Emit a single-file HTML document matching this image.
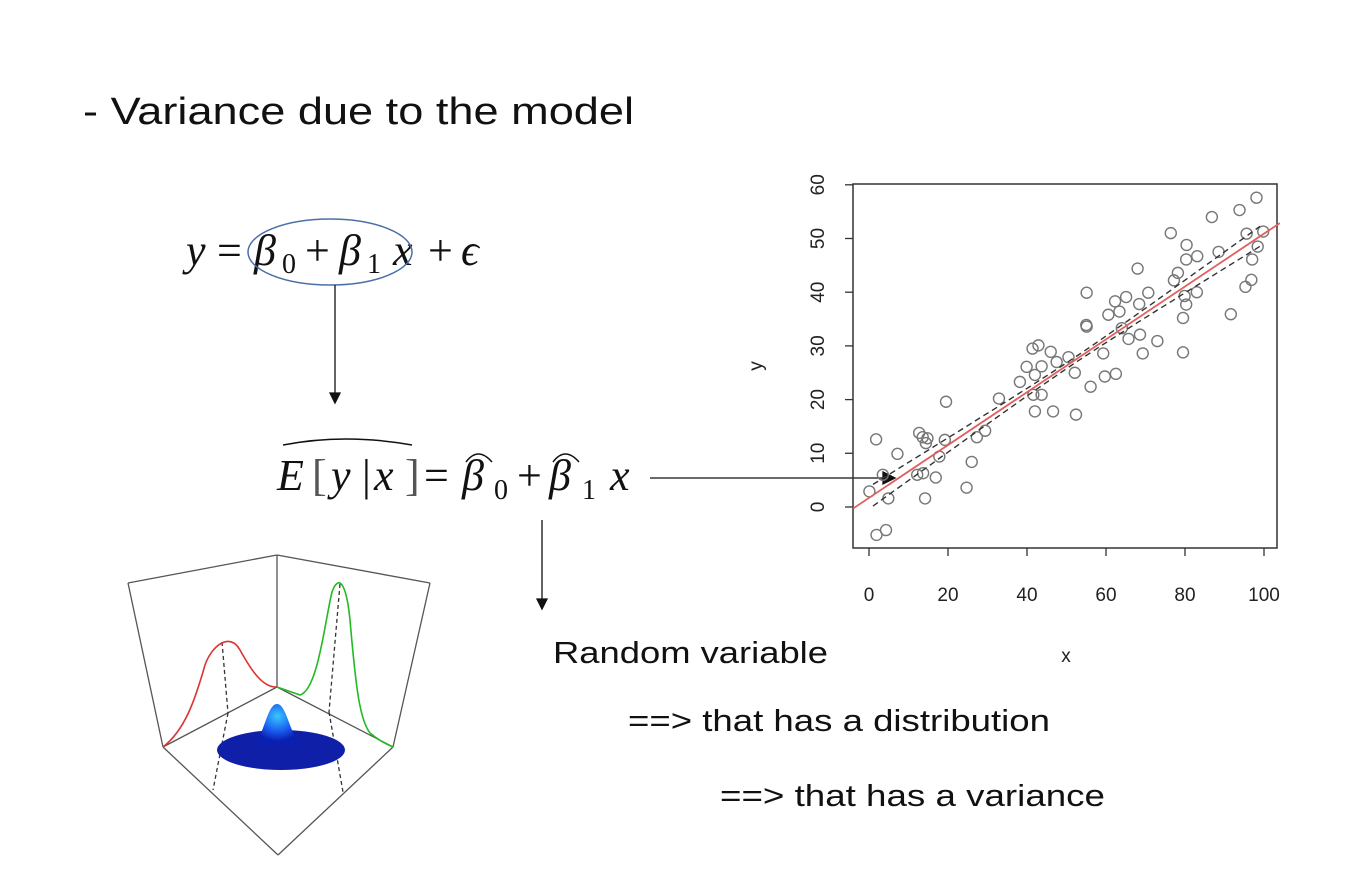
<!DOCTYPE html>
<html><head><meta charset="utf-8"><style>
html,body{margin:0;padding:0;background:#fff;}
svg{display:block;}
</style></head><body>
<svg width="1369" height="871" viewBox="0 0 1369 871" xmlns="http://www.w3.org/2000/svg">
<text x="83" y="124" font-family="Liberation Sans, sans-serif" font-size="38" fill="#111" textLength="551" lengthAdjust="spacingAndGlyphs">- Variance due to the model</text>

<g font-family="Liberation Serif, serif" font-size="44" fill="#111">
<text x="186" y="265" font-style="italic">y</text>
<text x="217" y="265">=</text>
<text x="254" y="265" font-style="italic">β</text>
<text x="282" y="273" font-size="28">0</text>
<text x="305" y="265">+</text>
<text x="339" y="265" font-style="italic">β</text>
<text x="367" y="273" font-size="28">1</text>
<text x="393" y="265" font-style="italic">x</text>
<text x="428" y="265">+</text>
<text x="461" y="265" font-style="italic">ϵ</text>
</g>
<ellipse cx="330" cy="252" rx="82" ry="33" fill="none" stroke="#4a6fa8" stroke-width="1.5"/>
<g stroke="#111" stroke-width="1.3" fill="#111">
<line x1="335" y1="285" x2="335" y2="394"/><polygon points="330,393 340,393 335,403"/>
<line x1="542" y1="520" x2="542" y2="600"/><polygon points="537,599 547,599 542,609"/>
<line x1="650" y1="478" x2="884" y2="478"/><polygon points="883,472 895,478 883,484"/>
</g>

<g font-family="Liberation Serif, serif" font-size="44" fill="#111">
<path d="M283,445 Q345,433 412,445" fill="none" stroke="#111" stroke-width="1.5"/>
<text x="277" y="490" font-style="italic">E</text>
<text x="312" y="490" fill="#555">[</text>
<text x="331" y="490" font-style="italic">y</text>
<text x="362" y="490">|</text>
<text x="374" y="490" font-style="italic">x</text>
<text x="405" y="490" fill="#555">]</text>
<text x="424" y="490">=</text>
<text x="462" y="490" font-style="italic">β</text>
<path d="M466,462 Q478,446 492,462" fill="none" stroke="#111" stroke-width="1.5"/>
<text x="494" y="499" font-size="28">0</text>
<text x="517" y="490">+</text>
<text x="549" y="490" font-style="italic">β</text>
<path d="M553,462 Q565,446 579,462" fill="none" stroke="#111" stroke-width="1.5"/>
<text x="582" y="499" font-size="28">1</text>
<text x="610" y="490" font-style="italic">x</text>
</g>

<g font-family="Liberation Sans, sans-serif" font-size="31" fill="#111">
<text x="553" y="663" textLength="275" lengthAdjust="spacingAndGlyphs">Random variable</text>
<text x="628" y="731" textLength="422" lengthAdjust="spacingAndGlyphs">==&gt; that has a distribution</text>
<text x="720" y="806" textLength="385" lengthAdjust="spacingAndGlyphs">==&gt; that has a variance</text>
</g>

<!-- 3D bivariate illustration -->
<g fill="none" stroke="#555" stroke-width="1.3">
<line x1="277" y1="555" x2="277" y2="687"/>
<line x1="128" y1="583" x2="277" y2="555"/>
<line x1="277" y1="555" x2="430" y2="583"/>
<line x1="128" y1="583" x2="163" y2="747"/>
<line x1="430" y1="583" x2="393" y2="747"/>
<line x1="163" y1="747" x2="277" y2="687"/>
<line x1="277" y1="687" x2="393" y2="747"/>
<line x1="163" y1="747" x2="278" y2="855"/>
<line x1="393" y1="747" x2="278" y2="855"/>
<g stroke-dasharray="4,3" stroke="#333">
<line x1="222" y1="642" x2="228" y2="713"/>
<line x1="340" y1="584" x2="329" y2="712"/>
<line x1="228" y1="713" x2="213" y2="790"/>
<line x1="329" y1="712" x2="343" y2="792"/>
</g>
<path d="M163,747 C185,730 195,700 205,665 C212,645 230,632 240,650 C250,668 262,688 277,687" stroke="#d33" stroke-width="1.6"/>
<path d="M277,687 L300,695 C318,690 325,620 332,592 C338,575 346,580 350,620 C356,690 360,720 370,733 C378,740 386,744 393,747" stroke="#2b2" stroke-width="1.6"/>
<defs><radialGradient id="bump" cx="0.5" cy="0.3" r="0.6"><stop offset="0" stop-color="#39c6ff"/><stop offset="0.6" stop-color="#1a5ef0"/><stop offset="1" stop-color="#0a20b0"/></radialGradient></defs>
<ellipse cx="281" cy="750" rx="64" ry="20" fill="#0f1fa8" stroke="none"/>
<path d="M255,745 C265,730 268,704 277,704 C286,704 289,730 300,745 Z" fill="url(#bump)" stroke="none"/>
</g>

<!-- Scatter plot -->
<g id="scatter"></g>
<script>
const xs=[1.8,7.2,3.5,0.1,4.9,1.9,4.3,12.7,13.6,14.8,14.4,19.2,19.5,12.2,13.7,16.9,14.2,17.8,24.7,26.0,27.3,29.4,32.9,38.2,39.9,41.4,42.9,43.7,42.0,41.6,43.7,42.0,46.0,47.5,50.5,52.1,46.6,52.4,56.1,55.1,55.0,55.1,59.3,59.7,62.5,60.6,62.3,63.4,65.1,64.0,65.7,68.6,68.4,70.7,68.0,69.3,73.0,76.4,80.4,80.3,83.1,78.2,77.2,79.9,80.3,79.5,79.5,83.0,86.8,88.5,91.6,93.8,98.1,95.6,99.8,97.0,96.8,95.3,98.4];
const ys=[12.6,9.9,6.0,2.9,1.6,-5.2,-4.3,13.8,13.0,12.8,11.9,12.5,19.6,6.0,6.3,5.5,1.6,9.4,3.6,8.4,13.0,14.2,20.2,23.3,26.1,29.5,30.1,26.2,24.6,20.9,20.9,17.8,28.9,27.0,27.9,25.0,17.8,17.2,22.4,33.6,33.9,39.9,28.6,24.3,24.8,35.8,38.3,36.4,39.1,33.3,31.3,32.1,37.8,39.9,44.4,28.6,30.9,51.0,48.8,46.1,46.7,43.6,42.2,39.3,37.7,35.2,28.8,40.0,54.0,47.5,35.9,55.3,57.6,50.9,51.3,46.1,42.3,41.0,48.5];
const fitCoef=[1.7,0.492];
const xTicks=[0,20,40,60,80,100];
const yTicks=[0,10,20,30,40,50,60];
const NS='http://www.w3.org/2000/svg';
const g=document.getElementById('scatter');
const X=v=>869+v*3.95, Y=v=>507-v*5.37;
function mk(t,a,p){const e=document.createElementNS(NS,t);for(const k in a)e.setAttribute(k,a[k]);(p||g).appendChild(e);return e;}
const frame=mk('rect',{x:853,y:184,width:424,height:364,fill:'none',stroke:'#333','stroke-width':1.5});


xTicks.forEach(t=>{
 const l=mk('line',{x1:X(t),y1:548,x2:X(t),y2:556,stroke:'#333','stroke-width':1.3});
 
 
 const tx=mk('text',{x:X(t),y:601,'text-anchor':'middle','font-family':'Liberation Sans, sans-serif','font-size':19,fill:'#222'});
 tx.textContent=t;
 
 
});
yTicks.forEach(t=>{
 const l=mk('line',{x1:845,y1:Y(t),x2:853,y2:Y(t),stroke:'#333','stroke-width':1.3});
 
 
 const tx=mk('text',{x:824,y:Y(t),'text-anchor':'middle','font-family':'Liberation Sans, sans-serif','font-size':19,fill:'#222',transform:`rotate(-90 824 ${Y(t)})`});
 tx.textContent=t;
 
 
});
const xl=mk('text',{x:1066,y:662,'text-anchor':'middle','font-family':'Liberation Sans, sans-serif','font-size':19,fill:'#222'});
xl.textContent='x';


const yl=mk('text',{x:762,y:366,'text-anchor':'middle','font-family':'Liberation Sans, sans-serif','font-size':19,fill:'#222',transform:'rotate(-90 762 366)'});
yl.textContent='y';


xs.forEach((x,i)=>{
 const c=mk('circle',{cx:X(x),cy:Y(ys[i]),r:5.5,fill:'none',stroke:'#777','stroke-width':1.4});
 
 
});
const mx=xs.reduce((a,b)=>a+b,0)/xs.length;
function band(sign){let d='';for(let x=1;x<=100;x+=2){const h=1.9*Math.sqrt(0.08+((x-mx)/50)**2);const y=fitCoef[0]+fitCoef[1]*x+sign*h;d+=(d?'L':'M')+X(x).toFixed(1)+','+Y(y).toFixed(1);}return d;}
[1,-1].forEach(s=>{
 const p=mk('path',{d:band(s),fill:'none',stroke:'#333','stroke-width':1.4,'stroke-dasharray':'6,4'});
 
 
});
const x0=-4,x1=104;
const fl=mk('line',{x1:X(x0),y1:Y(fitCoef[0]+fitCoef[1]*x0),x2:X(x1),y2:Y(fitCoef[0]+fitCoef[1]*x1),stroke:'#e06060','stroke-width':1.8});


</script>
</svg>
</body></html>
